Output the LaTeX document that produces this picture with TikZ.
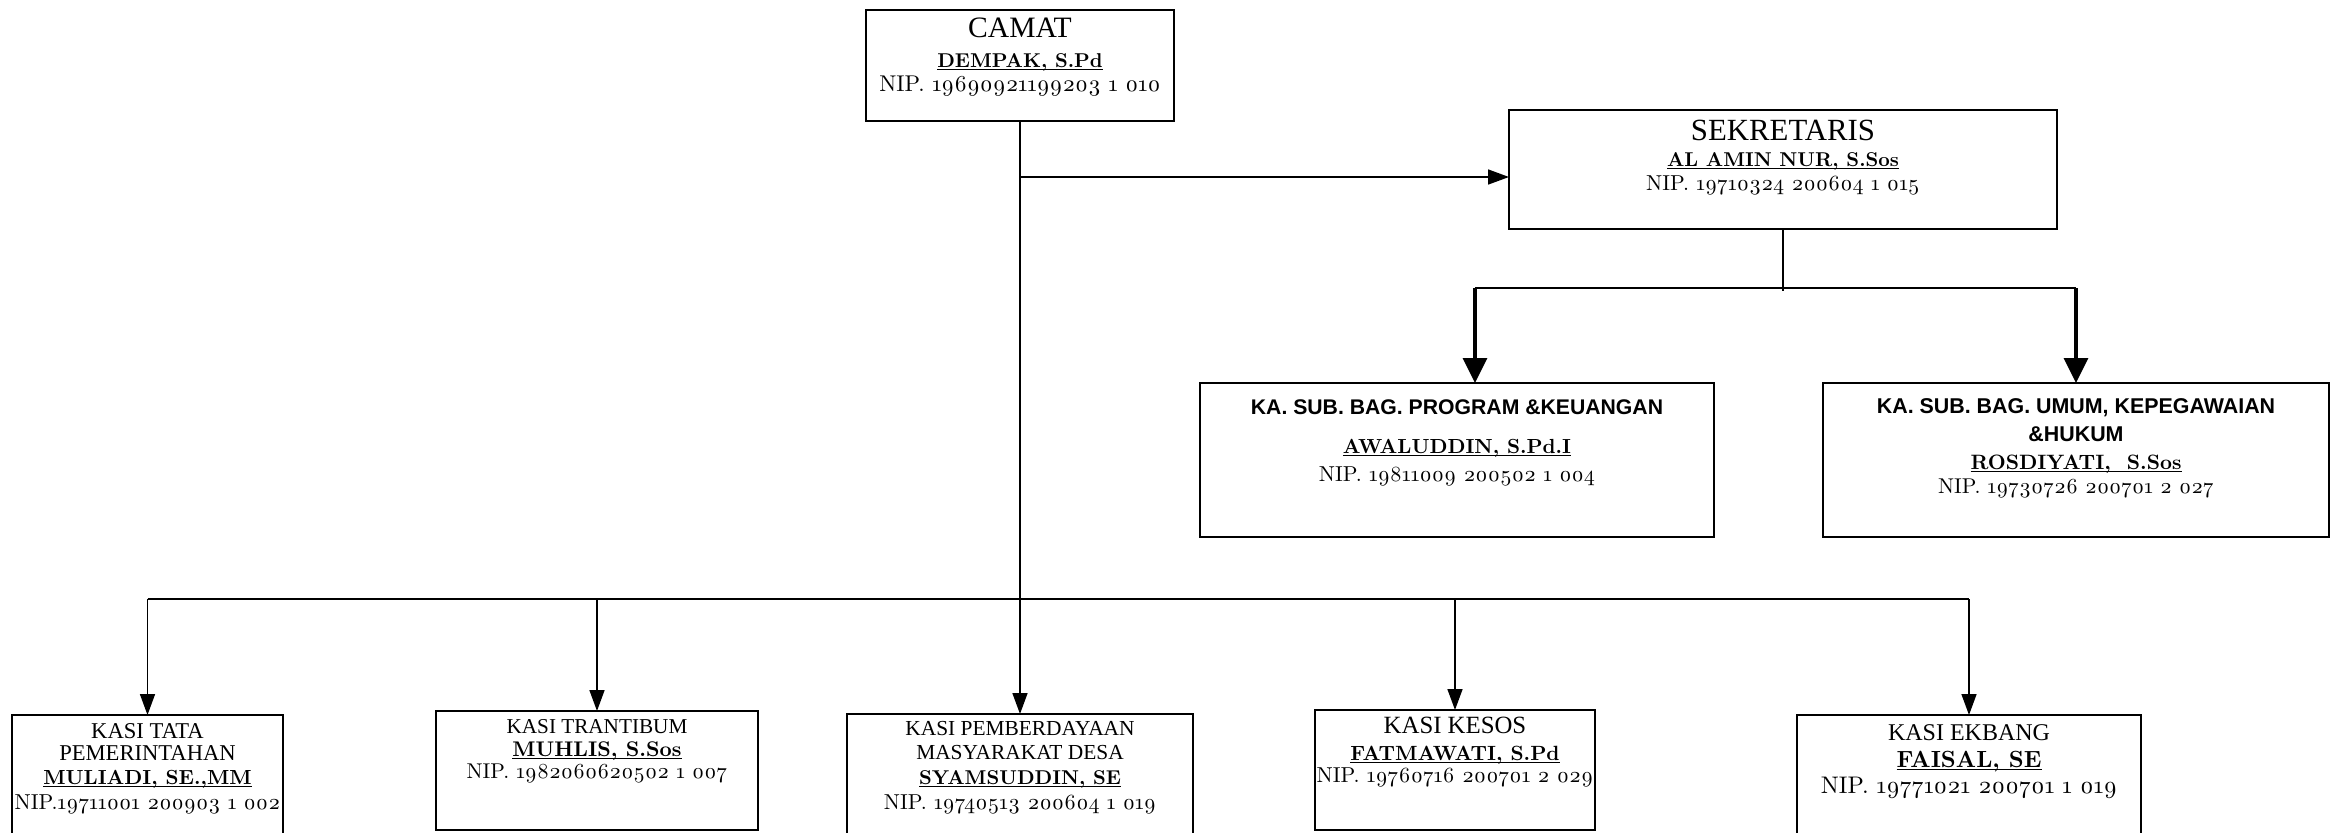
\documentclass[tikz,border=0pt]{standalone}
\usepackage{fontspec}
\setmainfont{Liberation Serif}
\newfontfamily\hdfont{Liberation Sans}
\newfontfamily\lmfont{lmroman10-regular.otf}[Numbers=OldStyle, BoldFont=lmroman10-bold.otf]
\usetikzlibrary{arrows.meta}

% text helpers for the boxes
\newsavebox\garisbox
\newcommand{\garis}[1]{\sbox\garisbox{#1}\rlap{\rule[-1.6pt]{\wd\garisbox}{0.7pt}}\usebox\garisbox}
\newcommand{\jab}[2]{{\fontsize{#1}{#1}\selectfont #2}}
\newcommand{\kabag}[2]{{\hdfont\bfseries\fontsize{#1}{#1}\selectfont #2}}
\newcommand{\nama}[2]{{\lmfont\bfseries\fontsize{#1}{#1}\selectfont\garis{#2}}}
\newcommand{\nip}[2]{{\lmfont\fontsize{#1}{#1}\selectfont #2}}
\newcommand{\baris}[2]{\vspace*{#1}\hbox to \linewidth{\hss\smash{#2}\hss}}
\newcommand{\isi}[3]{\parbox[c][#2][t]{#1}{\offinterlineskip #3}}

\tikzset{
  orgbox/.style={draw, line width=1pt, inner sep=0pt, outer sep=0pt, anchor=north west},
  conn/.style={line width=0.8pt},
  arr/.style={conn, -{Triangle[width=7.5pt,length=10.5pt]}},
  tebal/.style={line width=1.6pt, -{Triangle[width=12pt,length=12.5pt]}}
}

\begin{document}
\begin{tikzpicture}[x=0.5pt,y=-0.5pt]
\clip (0,0) rectangle (2331,832);

% pimpinan
\node[orgbox] (camat) at (866,10) {\isi{154pt}{55.5pt}{%
  \baris{13.5pt}{\jab{14.8pt}{CAMAT}}%
  \baris{15pt}{\nama{10pt}{DEMPAK, S.Pd}}%
  \baris{12pt}{\nip{11.4pt}{NIP. 19690921199203 1 010}}}};

\node[orgbox] (sek) at (1509,110) {\isi{274pt}{59.5pt}{%
  \baris{15pt}{\jab{15.4pt}{SEKRETARIS}}%
  \baris{13pt}{\nama{10pt}{AL AMIN NUR, S.Sos}}%
  \baris{12pt}{\nip{10.8pt}{NIP. 19710324 200604 1 015}}}};

% sub bagian
\node[orgbox] (prog) at (1200,383) {\isi{257pt}{77pt}{%
  \baris{15.5pt}{\kabag{10.6pt}{KA. SUB. BAG. PROGRAM \&KEUANGAN}}%
  \baris{19.5pt}{\nama{10.2pt}{AWALUDDIN, S.Pd.I}}%
  \baris{14pt}{\nip{10.8pt}{NIP. 19811009 200502 1 004}}}};

\node[orgbox] (umum) at (1823,383) {\isi{253pt}{77pt}{%
  \baris{15pt}{\kabag{10.7pt}{KA. SUB. BAG. UMUM, KEPEGAWAIAN}}%
  \baris{14pt}{\kabag{10.7pt}{\&HUKUM}}%
  \baris{14pt}{\nama{10.4pt}{ROSDIYATI, \ S.Sos}}%
  \baris{12pt}{\nip{10.7pt}{NIP. 19730726 200701 2 027}}}};

% seksi
\node[orgbox] (tata) at (12,715) {\isi{135.5pt}{80pt}{%
  \baris{11.5pt}{\jab{11.3pt}{KASI TATA}}%
  \baris{11pt}{\jab{11.3pt}{PEMERINTAHAN}}%
  \baris{12pt}{\nama{10.2pt}{MULIADI, SE.,MM}}%
  \baris{12.5pt}{\nip{10.8pt}{NIP.19711001 200903 1 002}}}};

\node[orgbox] (tran) at (436,711) {\isi{161pt}{59.5pt}{%
  \baris{11pt}{\jab{10.6pt}{KASI TRANTIBUM}}%
  \baris{11.5pt}{\nama{10.6pt}{MUHLIS, S.Sos}}%
  \baris{11pt}{\nip{10.7pt}{NIP. 1982060620502 1 007}}}};

\node[orgbox] (pmd) at (847,714) {\isi{173pt}{80pt}{%
  \baris{10.5pt}{\jab{10.7pt}{KASI PEMBERDAYAAN}}%
  \baris{12pt}{\jab{10.7pt}{MASYARAKAT DESA}}%
  \baris{12.5pt}{\nama{10pt}{SYAMSUDDIN, SE}}%
  \baris{12.5pt}{\nip{10.8pt}{NIP. 19740513 200604 1 019}}}};

\node[orgbox] (kesos) at (1315,710) {\isi{140pt}{60pt}{%
  \baris{11.5pt}{\jab{12.4pt}{KASI KESOS}}%
  \baris{13.5pt}{\nama{10.3pt}{FATMAWATI, S.Pd}}%
  \baris{11pt}{\nip{10.8pt}{NIP. 19760716 200701 2 029}}}};

\node[orgbox] (ekbang) at (1797,715) {\isi{172pt}{80pt}{%
  \baris{12.5pt}{\jab{12pt}{KASI EKBANG}}%
  \baris{13.5pt}{\nama{11.7pt}{FAISAL, SE}}%
  \baris{13pt}{\nip{12pt}{NIP. 19771021 200701 1 019}}}};

% garis komando
\coordinate (cabang) at (camat.south |- 0,177);
\coordinate (bus) at (camat.south |- 0,599);
\draw[conn] (camat.south) -- (bus);
\draw[arr] (cabang) -- (cabang -| sek.west);
\draw[arr] (bus) -- (pmd.north);
\draw[conn] (tata.north |- bus) -- (ekbang.north |- bus);
\foreach \k in {tata,tran,kesos,ekbang}{
  \draw[arr] (\k.north |- bus) -- (\k.north);
}

% sekretariat
\coordinate (subbus) at (sek.south |- 0,288);
\coordinate (subL) at (1475,288);
\draw[conn] (sek.south) -- ([yshift=-1.5pt]subbus);
\draw[conn] (subL) -- (umum.north |- subbus);
\draw[tebal] (subL) -- (subL |- prog.north);
\draw[tebal] (umum.north |- subbus) -- (umum.north);

\end{tikzpicture}
\end{document}
